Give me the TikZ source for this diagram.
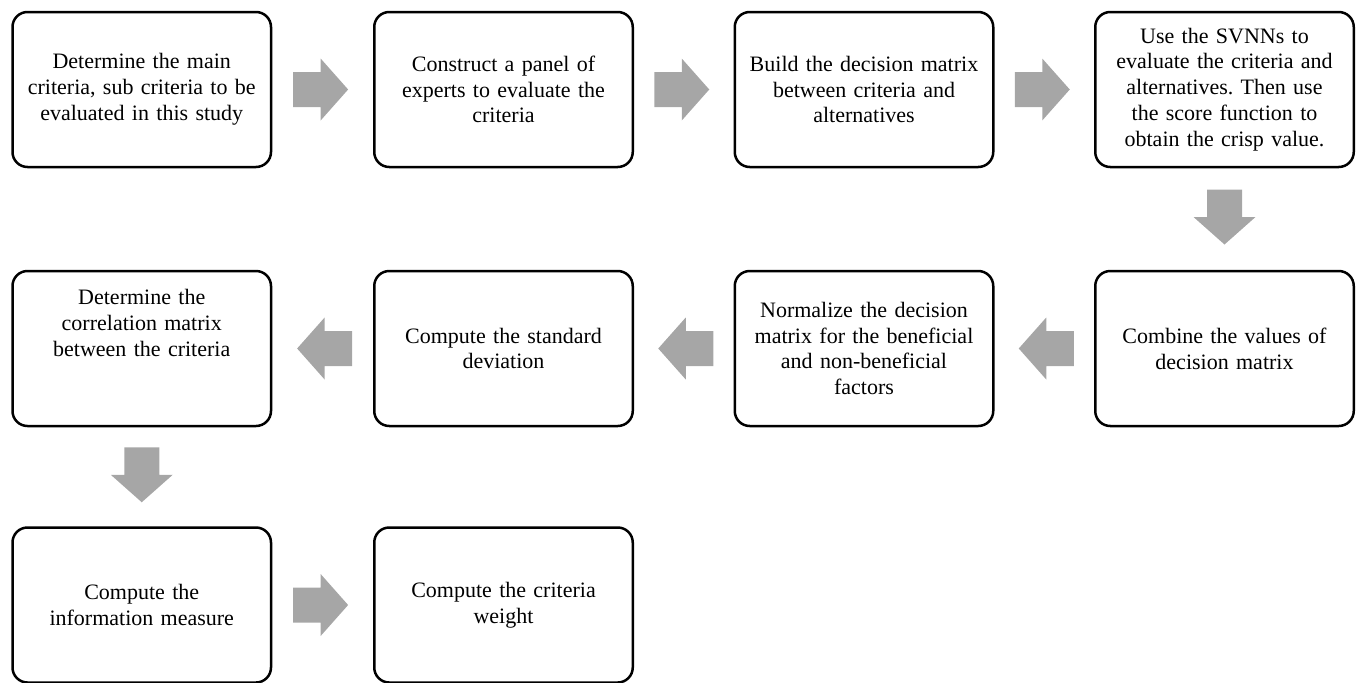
\documentclass[tikz,border=0pt]{standalone}
\usepackage{fontspec}
\setmainfont{Liberation Serif}
\usetikzlibrary{calc}
\definecolor{arrowgray}{RGB}{166,166,166}
\tikzset{
  stepbox/.style={draw=black, line width=2.5pt, rounded corners=15pt, fill=white,
    minimum width=258.5pt, minimum height=155pt, inner sep=0pt,
    text width=252pt, align=center, font=\fontsize{22}{25.8}\selectfont\frenchspacing},
  blockarrow/.pic={\fill[arrowgray] (-27.5,-17.5) -- (0,-17.5) -- (0,-31) -- (27.5,0) -- (0,31) -- (0,17.5) -- (-27.5,17.5) -- cycle;}
}
\begin{document}
\begin{tikzpicture}[x=1pt,y=-1pt]
\useasboundingbox (0,0) rectangle (1358,683);
% row 1
\node[stepbox] (b1) at (141.75,89.5) {Determine the main\\criteria, sub criteria to be\\evaluated in this study};
\node[stepbox] (b2) at (503.5,89.5) {Construct a panel of\\experts to evaluate the\\criteria};
\node[stepbox] (b3) at (864,89.5) {Build the decision matrix\\between criteria and\\alternatives};
\node[stepbox] (b4) at (1224.5,89.5) {Use the SVNNs to\\evaluate the criteria and\\alternatives. Then use\\the score function to\\obtain the crisp value.};
% row 2
\node[stepbox] (b5) at (1224.5,348.5) {Combine the values of\\decision matrix};
\node[stepbox] (b6) at (864,348.5) {Normalize the decision\\matrix for the beneficial\\and non-beneficial\\factors};
\node[stepbox] (b7) at (503.5,348.5) {Compute the standard\\deviation};
\node[stepbox] (b8) at (141.75,348.5) {Determine the\\correlation matrix\\between the criteria\\~\\~};
% row 3
\node[stepbox] (b9) at (141.75,605) {Compute the\\information measure};
\node[stepbox] (b10) at (503.5,605) {Compute the criteria\\weight};
% arrows
\pic at ($(b1.east)!0.5!(b2.west)+(-2,0)$) {blockarrow};
\pic at ($(b2.east)!0.5!(b3.west)+(-2,0)$) {blockarrow};
\pic at ($(b3.east)!0.5!(b4.west)+(-2,0)$) {blockarrow};
\pic[rotate=-90] at ($(b4.south)!0.5!(b5.north)+(0,-2)$) {blockarrow};
\pic[rotate=180] at ($(b5.west)!0.5!(b6.east)+(2,0)$) {blockarrow};
\pic[rotate=180] at ($(b6.west)!0.5!(b7.east)+(2,0)$) {blockarrow};
\pic[rotate=180] at ($(b7.west)!0.5!(b8.east)+(2,0)$) {blockarrow};
\pic[rotate=-90] at ($(b8.south)!0.5!(b9.north)+(0,-2)$) {blockarrow};
\pic at ($(b9.east)!0.5!(b10.west)+(-2,0)$) {blockarrow};
\end{tikzpicture}
\end{document}
